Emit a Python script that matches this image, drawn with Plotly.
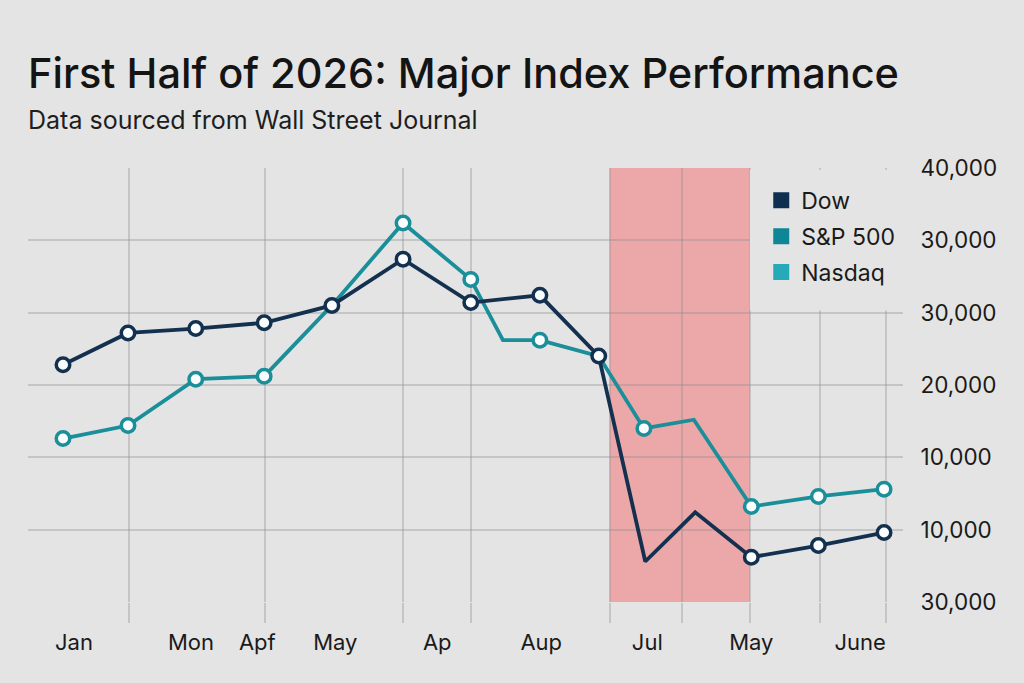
import plotly.graph_objects as go

# ---------------- data ----------------
# x positions along the time axis, in month-steps (0 = first observation)
dow_x = [0, 0.95, 1.94, 2.94, 3.93, 4.97, 5.96, 6.97, 7.83, 8.51, 9.24, 10.06, 11.04, 12.0]
dow_y = [26400, 28600, 28900, 29300, 30500, 33700, 30700, 31200, 27000, 12800, 16200, 13100, 13900, 14800]
dow_marked = [1, 1, 1, 1, 1, 1, 1, 1, 1, 0, 0, 1, 1, 1]

sp_x = [0, 0.95, 1.94, 2.94, 3.93, 4.97, 5.96, 6.43, 6.97, 7.83, 8.49, 9.22, 10.06, 11.04, 12.0]
sp_y = [21300, 22200, 25400, 25600, 30500, 36200, 32300, 28100, 28100, 27000, 22000, 22600, 16600, 17300, 17800]
sp_marked = [1, 1, 1, 1, 0, 1, 1, 0, 1, 0, 1, 0, 1, 1, 1]

legend_names = ["Dow", "S&P 500", "Nasdaq"]
legend_colors = ["#0f2f50", "#0d8795", "#28a9b7"]

x_label_pos = [0.16, 1.87, 2.84, 3.98, 5.47, 6.99, 8.54, 10.06, 11.65]
x_label_text = ["Jan", "Mon", "Apf", "May", "Ap", "Aup", "Jul", "May", "June"]
x_grid_pos = [0.965, 2.95, 4.97, 5.96, 7.99, 9.05, 10.04, 11.06, 12.03]

y_tick_vals = [40000, 35000, 30000, 25000, 20000, 15000, 10000]
y_tick_text = ["40,000", "30,000", "30,000", "20,000", "10,000", "10,000", "30,000"]

shade_x = [7.99, 10.04]

TITLE = "First Half of 2026: Major Index Performance"
SUBTITLE = "Data sourced from Wall Street Journal"

# ---------------- styling ----------------
BG = "#e4e4e4"
GRID = "rgba(140,140,140,0.35)"
DOW_C = "#14304f"
SP_C = "#1a8e99"
MARKER_FILL = "#f9fdff"
X_RANGE = [-0.5115, 12.277]
Y_RANGE = [10000, 40000]

fig = go.Figure()


def marker_spec(flags, color):
    return dict(
        symbol="circle",
        size=[13.5 if f else 0 for f in flags],
        color=MARKER_FILL,
        opacity=1,
        line=dict(color=color, width=[3.5 if f else 0 for f in flags]),
    )


fig.add_trace(go.Scatter(
    x=sp_x, y=sp_y, mode="lines+markers", name="S&P 500", showlegend=False,
    line=dict(color=SP_C, width=3.8), marker=marker_spec(sp_marked, SP_C),
))
fig.add_trace(go.Scatter(
    x=dow_x, y=dow_y, mode="lines+markers", name="Dow", showlegend=False,
    line=dict(color=DOW_C, width=3.8), marker=marker_spec(dow_marked, DOW_C),
))

# legend entries (square swatches) on the label axis
for i, (n, c) in enumerate(zip(legend_names, legend_colors)):
    fig.add_trace(go.Scatter(
        x=[None], y=[None], xaxis="x2", mode="markers", name=n,
        legendgroup=f"g{i}",
        marker=dict(symbol="square", size=20, color=c),
    ))

# shaded period (below gridlines)
fig.add_shape(type="rect", xref="x", yref="y", x0=shade_x[0], x1=shade_x[1],
              y0=Y_RANGE[0], y1=Y_RANGE[1], fillcolor="#eca8a9", line_width=0,
              layer="below")
# blank area behind the legend (hides grid there)
fig.add_shape(type="rect", xref="x", yref="y", x0=shade_x[1], x1=X_RANGE[1],
              y0=30150, y1=39880, fillcolor=BG, line_width=0, layer="between")

fig.add_annotation(text=TITLE, xref="paper", yref="paper", x=-0.002, y=1.219,
                   xanchor="left", yanchor="middle", showarrow=False,
                   font=dict(family="Inter", size=41.5, weight=500, color="#141414"))
fig.add_annotation(text=SUBTITLE, xref="paper", yref="paper", x=-0.002, y=1.11,
                   xanchor="left", yanchor="middle", showarrow=False,
                   font=dict(family="Inter", size=25, color="#1e1e1e"))

fig.update_layout(
    width=1024, height=683,
    margin=dict(l=28, r=121, t=168, b=81),
    paper_bgcolor=BG, plot_bgcolor=BG,
    showlegend=True,
    legend=dict(x=0.838, y=0.975, xanchor="left", yanchor="top",
                bgcolor="rgba(0,0,0,0)", tracegroupgap=3,
                font=dict(family="Inter", size=23, color="#1a1a1a")),
    xaxis=dict(range=X_RANGE, tickmode="array", tickvals=x_grid_pos,
               showticklabels=False, ticks="outside", ticklen=20, tickwidth=1.5,
               tickcolor=GRID, showgrid=True, gridcolor=GRID, gridwidth=1.5,
               zeroline=False, showline=False, fixedrange=True),
    xaxis2=dict(range=X_RANGE, overlaying="x", side="bottom", tickmode="array",
                tickvals=x_label_pos, ticktext=x_label_text, showgrid=False,
                ticks="outside", ticklen=21, tickcolor="rgba(0,0,0,0)",
                zeroline=False, showline=False,
                tickfont=dict(family="Inter", size=22, color="#1a1a1a")),
    yaxis=dict(range=Y_RANGE, side="right", tickmode="array", tickvals=y_tick_vals,
               ticktext=y_tick_text, showgrid=True, gridcolor=GRID, gridwidth=1.5,
               ticks="outside", ticklen=12, tickcolor="rgba(0,0,0,0)",
               zeroline=False, showline=False,
               tickfont=dict(family="Inter", size=22.5, color="#1a1a1a")),
)

fig.write_html("out.html")
